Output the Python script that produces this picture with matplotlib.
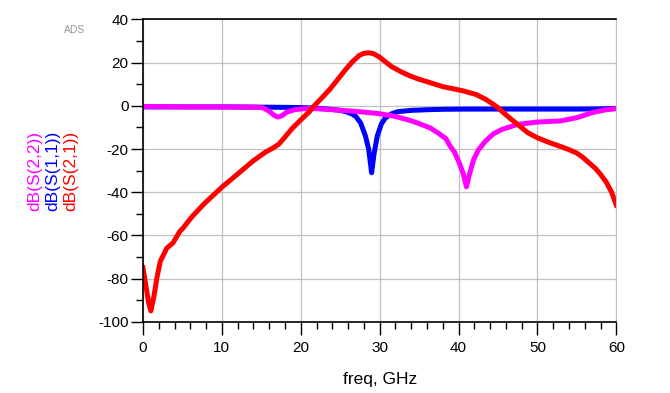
import matplotlib
matplotlib.use("Agg")
import matplotlib.pyplot as plt
from matplotlib.ticker import MultipleLocator

plt.rcParams['font.family'] = ['Liberation Sans', 'DejaVu Sans']
plt.rcParams['axes.unicode_minus'] = False

# dB(S(2,1))
f_s21 = [0, 0.4, 0.7, 1.0, 1.4, 1.8, 2.2, 2.6, 3.0, 3.8, 4.7, 5.0, 6.2, 7.8, 10, 11.9,
         13.9, 15.5, 16.5, 17.2, 18.0, 18.8, 20.0, 21.2, 21.7, 22.7, 23.7, 24.7, 25.7,
         26.6, 27.4, 28.0, 28.6, 29.2, 29.9, 30.7, 31.5, 32.7, 33.9, 35.0, 36.0, 38.0,
         40.5, 42.2, 43.4, 44.2, 45.0, 45.8, 46.7, 47.8, 48.8, 50, 51.5, 52.9, 54.0,
         55.0, 55.8, 56.6, 57.3, 57.9, 58.7, 59.4, 60]
db_s21 = [-75, -84, -91, -95, -88, -79, -72, -69, -66, -63.5, -58, -57, -51.4, -45.2,
          -37.7, -31.9, -25.7, -21.5, -19.5, -17.8, -14.5, -10.9, -6.5, -2.3, 0, 3.8,
          7.7, 12.3, 16.9, 20.6, 23.3, 24.3, 24.6, 24.2, 22.8, 20.5, 18.2, 15.8, 13.8,
          12.3, 11.2, 8.9, 7.0, 5.3, 3.1, 1.2, -0.8, -3.5, -6.3, -9.5, -12.5, -14.8,
          -17.0, -18.8, -20.3, -21.9, -24.0, -26.6, -28.8, -31.3, -35.2, -40, -46]

# dB(S(1,1))
f_s11 = [0, 5, 10, 15, 18, 20, 21.7, 23.5, 25.0, 25.8, 26.5, 27.0, 27.6, 28.2, 28.6,
         28.98, 29.3, 29.7, 30.2, 30.7, 31.5, 32.3, 34, 36, 38, 40.9, 45, 50, 55, 58, 60]
db_s11 = [-0.5, -0.5, -0.5, -0.6, -0.7, -0.8, -1.0, -1.5, -2.1, -2.8, -3.8, -5.0, -8.0,
          -14, -20, -31, -22, -14, -8.5, -5.7, -3.7, -2.7, -2.1, -1.8, -1.6, -1.5, -1.5,
          -1.5, -1.5, -1.4, -1.2]

# dB(S(2,2))
f_s22 = [0, 5, 10, 14, 15.2, 16.0, 16.6, 17.1, 17.6, 18.2, 19.2, 20.5, 22, 24, 26, 28,
         29.9, 32, 33.9, 35.2, 36.4, 37.5, 38.4, 38.9, 39.5, 40.1, 40.6, 41.0, 41.4,
         41.9, 42.5, 43.4, 44.4, 45.5, 47.5, 50, 52.9, 55, 57, 58.7, 60]
db_s22 = [-0.3, -0.5, -0.5, -0.6, -0.9, -2.5, -4.3, -5.2, -4.6, -3.0, -1.8, -1.3, -1.3,
          -1.8, -2.3, -2.9, -3.6, -4.9, -6.8, -8.5, -10.2, -12.8, -15.2, -18.5, -21.5,
          -26.5, -31.5, -37.5, -31.5, -25.0, -20.5, -16.4, -13.0, -10.9, -8.6, -7.5,
          -7.0, -5.5, -3.1, -1.8, -1.3]

fig = plt.figure(figsize=(6.70, 3.93), dpi=100)
ax = fig.add_axes([0.2134, 0.1814, 0.7065, 0.769])

ax.plot(f_s11, db_s11, color='#0000ff', lw=3.6, solid_joinstyle='round')
ax.plot(f_s22, db_s22, color='#ff00ff', lw=3.6, solid_joinstyle='round')
ax.plot(f_s21, db_s21, color='#ff0000', lw=3.6, solid_joinstyle='round')

ax.set_xlim(0, 60)
ax.set_ylim(-100, 40)
ax.xaxis.set_major_locator(MultipleLocator(10))
ax.xaxis.set_minor_locator(MultipleLocator(2))
ax.yaxis.set_major_locator(MultipleLocator(20))
ax.yaxis.set_minor_locator(MultipleLocator(10))
ax.grid(True, which='major', color='#c0c0c0', lw=0.9)
ax.set_axisbelow(True)

ax.tick_params(axis='both', which='major', direction='out', length=9, width=1,
               labelsize=11, color='black')
ax.tick_params(axis='both', which='minor', direction='out', length=5, width=1)
ax.tick_params(axis='x', which='major', pad=5)
ax.tick_params(axis='y', which='major', pad=1.5)

for side in ['left', 'bottom', 'top']:
    ax.spines[side].set_color('black')
    ax.spines[side].set_linewidth(1.2)
ax.spines['right'].set_color('#c0c0c0')

ax.set_xlabel('freq, GHz', fontsize=12.5, labelpad=12)

labels = ['dB(S(2,2))', 'dB(S(1,1))', 'dB(S(2,1))']
colors = ['#ff00ff', '#0000ff', '#ff0000']
xs = [0.052, 0.079, 0.106]
for x, lab, c in zip(xs, labels, colors):
    fig.text(x, 0.565, lab, rotation=90, color=c, fontsize=12.5,
             ha='center', va='center')

fig.text(0.112, 0.924, 'ADS', color='#999999', fontsize=7.5, ha='center', va='center')

plt.savefig('out.png', dpi=100)
plt.close()
